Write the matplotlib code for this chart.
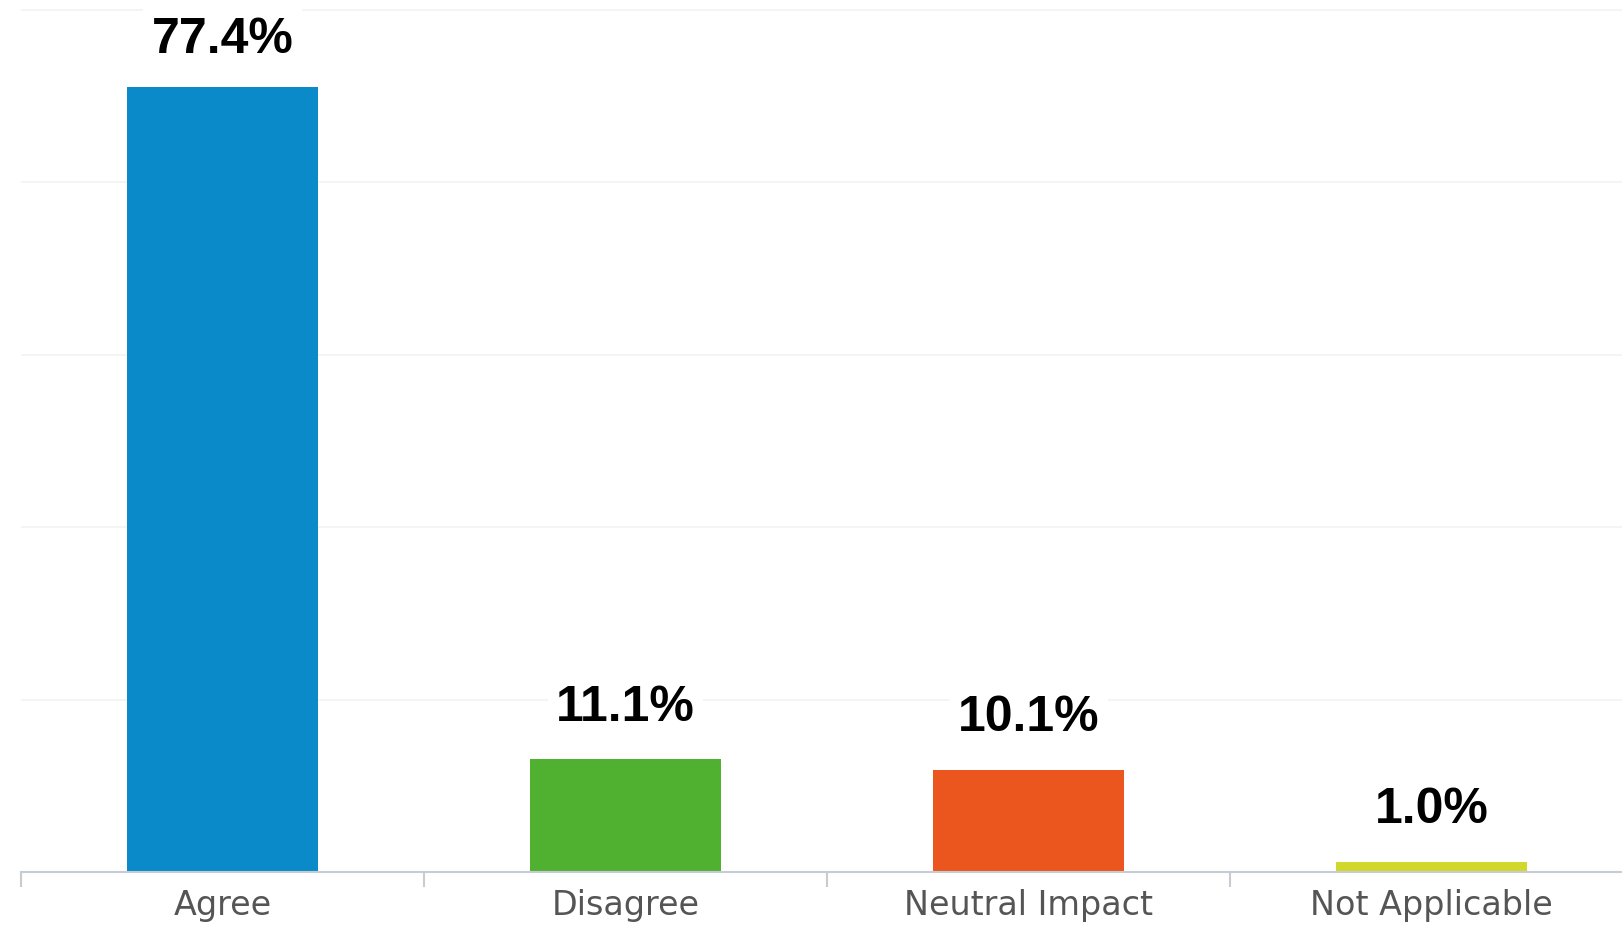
import matplotlib.pyplot as plt
import numpy as np

categories = ['Agree', 'Disagree', 'Neutral Impact', 'Not Applicable']
percent = [77.4, 11.1, 10.1, 1.0]
value_labels = ['77.4%', '11.1%', '10.1%', '1.0%']
bar_colors = ['#0b8ac9', '#50b030', '#ea561e', '#d2d82b']
grid_levels = [17.0, 34.0, 51.0, 68.0, 85.0]

# label offset above each bar (points); the first one sits lower, no room at the top
label_pad = [34, 37, 37, 37]

fig = plt.figure(figsize=(16.22, 9.25), dpi=100)
ax = fig.add_axes([21 / 1622, 53 / 925, 1612 / 1622, 863 / 925])

x = np.arange(len(categories))
ax.bar(x, percent, width=0.474, color=bar_colors, zorder=2)

for xi, v, lab, pad in zip(x, percent, value_labels, label_pad):
    ax.annotate(lab, (xi, v), xytext=(0, pad), textcoords='offset points',
                ha='center', va='center', fontsize=36, fontweight='bold',
                family='Liberation Sans', color='black', zorder=4,
                bbox=dict(facecolor='white', edgecolor='none', pad=6))

for g in grid_levels:
    ax.axhline(g, color='#f2f2f2', lw=1.2, zorder=0)

ax.set_xlim(-0.5, 3.5)
ax.set_ylim(0, 85.1)

for s in ['top', 'right', 'left']:
    ax.spines[s].set_visible(False)
ax.spines['bottom'].set_color('#c5ccd3')
ax.spines['bottom'].set_linewidth(1.5)

ax.set_yticks([])
ax.set_xticks(x)
ax.set_xticklabels(categories, fontsize=24, color='#555555', family='DejaVu Sans')
ax.tick_params(axis='x', which='major', length=0, pad=12)
ax.set_xticks(np.arange(-0.5, 4, 1), minor=True)
ax.tick_params(axis='x', which='minor', length=11, width=1.5, color='#c5ccd3')

fig.savefig('out.png', dpi=100)
